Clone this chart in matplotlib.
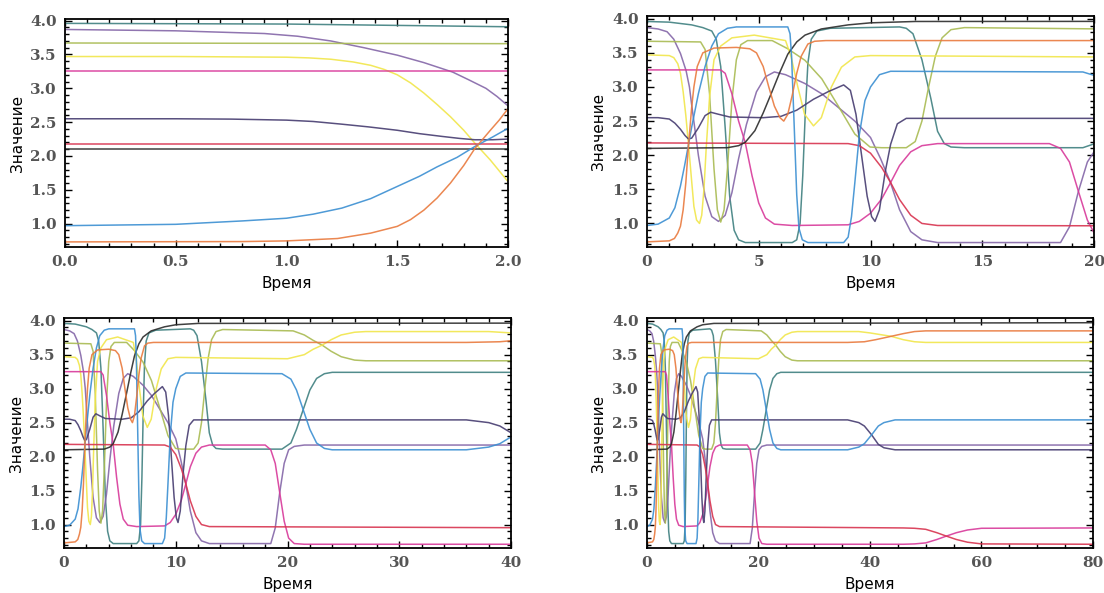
import matplotlib
matplotlib.use("Agg")
import matplotlib.pyplot as plt
from matplotlib.ticker import AutoMinorLocator, MultipleLocator

# ---- panel 1: zoom on t in [0, 2] ----
p1_teal_t = [0, 1.0, 1.5, 2.0]
p1_teal_v = [3.96, 3.95, 3.93, 3.91]
p1_purple_t = [0, 0.5, 0.9, 1.05, 1.2, 1.35, 1.5, 1.62, 1.75, 1.82, 1.9, 1.95, 2.0]
p1_purple_v = [3.87, 3.85, 3.81, 3.77, 3.70, 3.60, 3.49, 3.38, 3.24, 3.13, 3.0, 2.88, 2.74]
p1_olive_t = [0, 2.0]
p1_olive_v = [3.67, 3.66]
p1_yellow_t = [0, 0.5, 1.0, 1.1, 1.2, 1.3, 1.38, 1.44, 1.5, 1.56, 1.62, 1.68, 1.74, 1.8, 1.85, 1.92, 1.96, 2.0]
p1_yellow_v = [3.47, 3.47, 3.46, 3.45, 3.43, 3.39, 3.34, 3.28, 3.2, 3.08, 2.93, 2.76, 2.58, 2.38, 2.19, 1.94, 1.78, 1.62]
p1_magenta_t = [0, 2.0]
p1_magenta_v = [3.25, 3.25]
p1_navy_t = [0, 0.5, 0.75, 1.0, 1.12, 1.25, 1.37, 1.5, 1.6, 1.7, 1.78, 1.85, 1.93, 2.0]
p1_navy_v = [2.55, 2.55, 2.545, 2.53, 2.51, 2.47, 2.43, 2.38, 2.33, 2.29, 2.26, 2.24, 2.24, 2.25]
p1_red_t = [0, 2.0]
p1_red_v = [2.18, 2.18]
p1_black_t = [0, 2.0]
p1_black_v = [2.10, 2.10]
p1_blue_t = [0, 0.5, 0.8, 1.0, 1.12, 1.25, 1.38, 1.5, 1.6, 1.68, 1.77, 1.85, 1.93, 2.0]
p1_blue_v = [0.97, 0.99, 1.04, 1.08, 1.14, 1.23, 1.37, 1.55, 1.70, 1.84, 1.98, 2.14, 2.28, 2.41]
p1_orange_t = [0, 0.8, 1.0, 1.23, 1.38, 1.5, 1.56, 1.62, 1.68, 1.74, 1.8, 1.85, 1.92, 1.96, 2.0]
p1_orange_v = [0.73, 0.735, 0.745, 0.78, 0.86, 0.96, 1.06, 1.2, 1.38, 1.6, 1.86, 2.11, 2.38, 2.53, 2.7]

# ---- panels 2-4: the same run up to t = 80 ----
teal_t = [0, 1, 2, 2.5, 2.9, 3.1, 3.3, 3.5, 3.7, 3.9, 4.1, 4.4, 6.5, 6.7, 6.85, 6.97, 7.08, 7.2,
          7.35, 7.6, 8.2, 11.3, 11.6, 11.9, 12.3, 12.7, 13.0, 13.3, 13.6, 14.2, 19.5, 20.3, 20.8,
          21.4, 22.0, 22.6, 23.3, 24, 80]
teal_v = [3.96, 3.95, 3.91, 3.87, 3.82, 3.7, 3.3, 2.4, 1.4, 0.9, 0.76, 0.72, 0.72, 0.76, 1.0, 1.7,
          2.6, 3.35, 3.7, 3.82, 3.86, 3.88, 3.86, 3.78, 3.4, 2.83, 2.35, 2.17, 2.12, 2.11, 2.11,
          2.2, 2.4, 2.69, 2.98, 3.15, 3.22, 3.24, 3.24]
purple_t = [0, 0.5, 0.9, 1.2, 1.5, 1.75, 1.9, 2.0, 2.3, 2.6, 2.9, 3.2, 3.5, 3.8, 4.1, 4.45, 4.9,
            5.3, 5.7, 6.2, 7.07, 7.82, 8.56, 9.3, 10.0, 10.45, 10.87, 11.3, 11.8, 12.3, 13.0, 18.5,
            18.9, 19.3, 19.7, 20.1, 20.6, 21.5, 80]
purple_v = [3.87, 3.85, 3.81, 3.70, 3.49, 3.24, 3.0, 2.74, 2.0, 1.4, 1.1, 1.03, 1.12, 1.45, 1.95,
            2.45, 2.93, 3.15, 3.22, 3.18, 3.05, 2.9, 2.7, 2.5, 2.26, 1.95, 1.62, 1.2, 0.88, 0.76,
            0.72, 0.72, 0.95, 1.47, 1.9, 2.1, 2.15, 2.17, 2.17]
olive_t = [0, 2.4, 2.6, 2.8, 3.0, 3.15, 3.3, 3.45, 3.6, 3.8, 4.0, 4.2, 4.5, 5.6, 6.3, 7.07, 7.82,
           8.56, 9.3, 9.98, 10.5, 11.6, 12.0, 12.3, 12.6, 12.9, 13.2, 13.6, 14.2, 20.5, 21.5, 22.3,
           23.1, 23.9, 24.8, 26, 27, 80]
olive_v = [3.67, 3.66, 3.55, 2.9, 1.8, 1.2, 1.02, 1.2, 1.8, 2.8, 3.4, 3.62, 3.68, 3.68, 3.56, 3.39,
           3.12, 2.72, 2.31, 2.12, 2.11, 2.11, 2.2, 2.5, 3.0, 3.45, 3.72, 3.84, 3.87, 3.85, 3.79,
           3.71, 3.64, 3.55, 3.47, 3.42, 3.41, 3.41]
yellow_t = [0, 1.0, 1.2, 1.38, 1.5, 1.62, 1.74, 1.85, 2.0, 2.1, 2.22, 2.35, 2.45, 2.55, 2.65, 2.8,
            3.0, 3.3, 3.8, 4.8, 6.2, 6.45, 6.75, 7.05, 7.45, 7.8, 8.25, 8.7, 9.3, 10, 20, 21.5, 22.3,
            23.1, 23.9, 24.8, 26, 27, 38, 40, 41.5, 43.8, 46, 48, 50, 80]
yellow_v = [3.47, 3.46, 3.43, 3.34, 3.2, 2.93, 2.58, 2.19, 1.62, 1.25, 1.05, 1.0, 1.12, 1.5, 2.1,
            2.85, 3.4, 3.6, 3.72, 3.76, 3.68, 3.44, 3.0, 2.6, 2.43, 2.55, 3.0, 3.29, 3.44, 3.46,
            3.44, 3.5, 3.58, 3.64, 3.72, 3.79, 3.83, 3.84, 3.84, 3.82, 3.8, 3.77, 3.72, 3.69, 3.68,
            3.68]
magenta_t = [0, 3.3, 3.5, 3.8, 4.1, 4.4, 4.7, 5.0, 5.3, 5.7, 6.5, 9.0, 9.5, 10.0, 10.5, 10.9, 11.3,
             11.8, 12.3, 13, 18.0, 18.5, 18.9, 19.3, 19.7, 20.1, 20.6, 21.5, 46, 48, 50, 52, 53.7,
             55.5, 57.5, 60, 80]
magenta_v = [3.25, 3.25, 3.2, 2.9, 2.5, 2.18, 1.7, 1.3, 1.08, 0.99, 0.97, 0.98, 1.03, 1.15, 1.36,
             1.6, 1.85, 2.05, 2.14, 2.17, 2.17, 2.1, 1.9, 1.47, 1.05, 0.8, 0.72, 0.71, 0.71, 0.715,
             0.73, 0.78, 0.83, 0.88, 0.92, 0.945, 0.95]
navy_t = [0, 0.5, 1.0, 1.25, 1.5, 1.7, 1.85, 2.0, 2.3, 2.6, 2.85, 3.2, 3.7, 5.2, 6.0, 6.7, 7.45,
          8.1, 8.8, 9.1, 9.35, 9.6, 9.85, 10.05, 10.2, 10.4, 10.66, 10.9, 11.2, 11.6, 36, 38, 39,
          40.3, 41.5, 42.5, 44.5, 80]
navy_v = [2.55, 2.55, 2.53, 2.47, 2.38, 2.29, 2.24, 2.25, 2.4, 2.58, 2.63, 2.6, 2.56, 2.55, 2.57,
          2.66, 2.82, 2.93, 3.03, 2.95, 2.6, 2.0, 1.4, 1.1, 1.03, 1.2, 1.76, 2.16, 2.46, 2.54, 2.54,
          2.5, 2.45, 2.32, 2.18, 2.13, 2.1, 2.1]
red_t = [0, 9.0, 9.5, 10.0, 10.5, 10.9, 11.3, 11.8, 12.3, 13, 46, 48, 50, 52, 53.7, 55.5, 57.5, 60, 80]
red_v = [2.18, 2.17, 2.14, 2.03, 1.82, 1.6, 1.35, 1.12, 1.0, 0.97, 0.95, 0.945, 0.93, 0.88, 0.83,
         0.78, 0.74, 0.715, 0.71]
black_t = [0, 3.6, 4.1, 4.4, 4.83, 5.2, 5.58, 5.95, 6.3, 6.7, 7.07, 7.8, 9.0, 10.0, 12.0, 80]
black_v = [2.10, 2.11, 2.14, 2.19, 2.36, 2.62, 2.92, 3.22, 3.48, 3.66, 3.76, 3.85, 3.91, 3.94,
           3.96, 3.97]
blue_t = [0, 0.5, 1.0, 1.25, 1.5, 1.68, 1.85, 2.0, 2.3, 2.6, 2.9, 3.2, 3.6, 4.0, 6.3, 6.4, 6.47,
          6.59, 6.7, 6.8, 6.95, 7.2, 8.8, 9.0, 9.15, 9.3, 9.5, 9.75, 10.0, 10.4, 10.9, 19.5, 20.3,
          20.8, 21.4, 22.0, 22.6, 23.3, 24, 36, 38, 39, 40.3, 41.5, 42.5, 44.5, 80]
blue_v = [0.97, 0.99, 1.08, 1.23, 1.55, 1.84, 2.14, 2.41, 2.9, 3.3, 3.6, 3.78, 3.86, 3.88, 3.88,
          3.78, 3.45, 2.4, 1.42, 0.93, 0.76, 0.72, 0.72, 0.8, 1.1, 1.6, 2.3, 2.8, 3.0, 3.18, 3.23,
          3.22, 3.14, 2.98, 2.69, 2.4, 2.2, 2.12, 2.1, 2.1, 2.14, 2.19, 2.32, 2.45, 2.5, 2.54, 2.54]
orange_t = [0, 1.0, 1.23, 1.38, 1.5, 1.62, 1.74, 1.85, 1.92, 2.0, 2.1, 2.25, 2.5, 3.0, 4.0, 4.6,
            4.9, 5.2, 5.45, 5.7, 5.95, 6.12, 6.3, 6.5, 6.7, 6.9, 7.2, 7.5, 8.0, 36, 39, 41, 43.8,
            46, 48, 50, 80]
orange_v = [0.73, 0.745, 0.78, 0.86, 0.96, 1.2, 1.6, 2.11, 2.38, 2.7, 3.0, 3.3, 3.5, 3.57, 3.58,
            3.56, 3.5, 3.3, 3.0, 2.72, 2.55, 2.5, 2.6, 2.88, 3.2, 3.45, 3.63, 3.67, 3.68, 3.68,
            3.69, 3.72, 3.77, 3.81, 3.84, 3.85, 3.85]

colors = {
    "teal": "#3f8080", "purple": "#8466a8", "olive": "#a9bb52", "yellow": "#f1e64a",
    "magenta": "#d8399a", "navy": "#463c70", "red": "#d8334f", "black": "#2b2b2b",
    "blue": "#3b8fd2", "orange": "#e97a3e",
}

panel1 = [
    ("teal", p1_teal_t, p1_teal_v), ("purple", p1_purple_t, p1_purple_v),
    ("olive", p1_olive_t, p1_olive_v), ("yellow", p1_yellow_t, p1_yellow_v),
    ("magenta", p1_magenta_t, p1_magenta_v), ("navy", p1_navy_t, p1_navy_v),
    ("red", p1_red_t, p1_red_v), ("black", p1_black_t, p1_black_v),
    ("blue", p1_blue_t, p1_blue_v), ("orange", p1_orange_t, p1_orange_v),
]
full_run = [
    ("teal", teal_t, teal_v), ("purple", purple_t, purple_v), ("olive", olive_t, olive_v),
    ("yellow", yellow_t, yellow_v), ("magenta", magenta_t, magenta_v), ("navy", navy_t, navy_v),
    ("red", red_t, red_v), ("black", black_t, black_v), ("blue", blue_t, blue_v),
    ("orange", orange_t, orange_v),
]

fig = plt.figure(figsize=(11.04, 5.93), dpi=100)
rects = [
    [0.0589, 0.5835, 0.4013, 0.3845],
    [0.5860, 0.5835, 0.4050, 0.3895],
    [0.0580, 0.0759, 0.4049, 0.3879],
    [0.5860, 0.0759, 0.4040, 0.3879],
]
xmax = [2, 20, 40, 80]
xstep = [0.5, 5, 10, 20]

for i, rect in enumerate(rects):
    ax = fig.add_axes(rect)
    series = panel1 if i == 0 else full_run
    for name, t, v in series:
        ax.plot(t, v, color=colors[name], lw=1.1, alpha=0.9)
    ax.set_xlim(0, xmax[i])
    ax.set_ylim(0.655, 4.025 if i == 0 else 4.04)
    ax.xaxis.set_major_locator(MultipleLocator(xstep[i]))
    ax.yaxis.set_major_locator(MultipleLocator(0.5))
    ax.xaxis.set_minor_locator(AutoMinorLocator())
    ax.yaxis.set_minor_locator(AutoMinorLocator(5))
    ax.tick_params(which="both", direction="in", top=True, right=True, width=1.0,
                   labelsize=11, labelcolor="#555555", pad=6)
    ax.tick_params(which="major", length=5)
    ax.tick_params(which="minor", length=3)
    for lab in ax.get_xticklabels() + ax.get_yticklabels():
        lab.set_family("DejaVu Serif")
        lab.set_fontweight("bold")
    for spine in ax.spines.values():
        spine.set_linewidth(1.3)
    ax.set_xlabel("Время", fontsize=11, labelpad=5)
    ax.set_ylabel("Значение", fontsize=11, labelpad=4)

fig.savefig("out.png", dpi=100, facecolor="white")
